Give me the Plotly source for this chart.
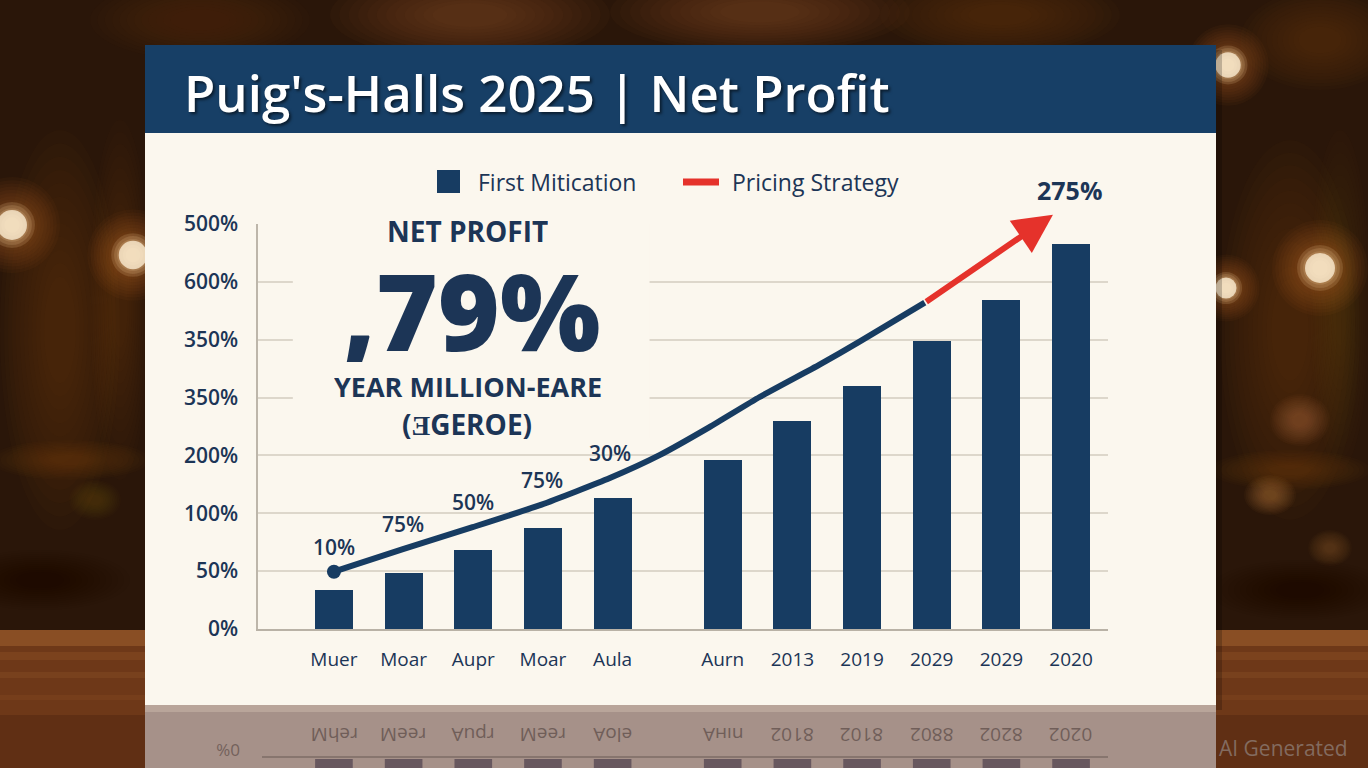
import plotly.graph_objects as go

# ---- data ----
categories = ['Muer', 'Moar', 'Aupr', 'Moar', 'Aula', 'Aurn', '2013', '2019', '2029', '2029', '2020']
x_pos = [0, 1, 2, 3, 4, 5.58, 6.58, 7.58, 8.58, 9.58, 10.58]
bar_values = [0.67, 0.97, 1.37, 1.75, 2.27, 2.92, 3.60, 4.20, 4.97, 5.68, 6.65]

y_tickvals = [0, 1, 2, 3, 4, 5, 6, 7]
y_ticktext = ['0%', '50%', '100%', '200%', '350%', '350%', '600%', '500%']

line_x = [0, 0.99, 1.99, 2.98, 3.96, 4.68, 5.39, 6.11, 6.97, 7.55, 8.48]
line_y = [0.99, 1.38, 1.76, 2.15, 2.61, 3.01, 3.49, 4.01, 4.57, 4.97, 5.64]
line_labels = ['10%', '75%', '50%', '75%', '30%']

arrow_x = [8.48, 10.32]
arrow_y = [5.64, 7.16]
arrow_label = '275%'

reflect_labels = ['Mher', 'Meer', 'Aupr', 'Meer', 'Aole', 'Aнın', '2018', '2018', '2088', '2028', '2020']

NAVY = '#173c62'
TEXT = '#1c3556'
CARD = '#fbf7ee'
RED = '#e5322b'

W, H = 1368, 768
ML, MR, MT, MB = 258, 260, 224, 139
PW, PH = W - ML - MR, H - MT - MB


def px(x):
    return (x - ML) / PW


def py(y):
    return (H - MB - y) / PH


def rect(x0, y0, x1, y1, color, opacity=1.0, layer='below'):
    return dict(type='rect', xref='paper', yref='paper', x0=px(x0), x1=px(x1), y0=py(y1), y1=py(y0),
                fillcolor=color, opacity=opacity, line=dict(width=0), layer=layer)


def blob(cx, cy, rx, ry, color, opacity):
    return dict(type='circle', xref='paper', yref='paper', x0=px(cx - rx), x1=px(cx + rx),
                y0=py(cy + ry), y1=py(cy - ry), fillcolor=color, opacity=opacity,
                line=dict(width=0), layer='below')


def soft(cx, cy, rx, ry, color, peak, steps=12):
    # stacked faint ellipses to fake a blurred patch of light
    return [blob(cx, cy, rx * (1 - i / steps * 0.8), ry * (1 - i / steps * 0.8), color, peak / steps)
            for i in range(steps)]


def light(cx, cy, r):
    out = soft(cx, cy, r * 2.4, r * 2.4, '#e08a3a', 0.45)
    out += soft(cx, cy, r * 1.15, r * 1.15, '#ffdca8', 0.9, steps=6)
    out.append(blob(cx, cy, r * 0.75, r * 0.75, '#fff1d8', 0.75))
    return out


fig = go.Figure()

fig.add_trace(go.Bar(x=x_pos, y=bar_values, width=0.545, marker=dict(color=NAVY, line=dict(width=0)),
                     showlegend=False, hoverinfo='skip'))
fig.add_trace(go.Scatter(x=line_x, y=line_y, mode='lines', line=dict(color=NAVY, width=6, shape='spline', smoothing=0.5),
                         showlegend=False, hoverinfo='skip'))
fig.add_trace(go.Scatter(x=line_x[:1], y=line_y[:1], mode='markers', marker=dict(color=NAVY, size=14),
                         showlegend=False, hoverinfo='skip'))

shapes = []
# background: dim bar room
shapes.append(rect(0, 0, W, 630, '#2a1609'))
for cx, cy, rx, ry, c, p in [(60, 330, 60, 200, '#7a4520', 0.45), (120, 300, 30, 180, '#8a5026', 0.35),
                             (1290, 330, 70, 190, '#7a4520', 0.45), (1340, 300, 30, 170, '#8a5026', 0.3),
                             (470, 15, 140, 45, '#9a5a28', 0.5), (760, 12, 150, 40, '#a86630', 0.5),
                             (1000, 15, 120, 40, '#8a4e22', 0.45), (200, 20, 110, 40, '#7a4420', 0.4),
                             (1320, 40, 80, 50, '#7a4420', 0.45), (70, 460, 80, 20, '#8a5428', 0.4),
                             (1290, 470, 80, 20, '#8a5428', 0.4), (1300, 420, 30, 26, '#c08040', 0.45),
                             (1270, 495, 26, 20, '#c88a48', 0.5), (1330, 548, 22, 18, '#b07038', 0.4),
                             (95, 500, 26, 20, '#a0602e', 0.35), (40, 580, 90, 30, '#120803', 0.5),
                             (1300, 590, 90, 30, '#120803', 0.5)]:
    shapes.extend(soft(cx, cy, rx, ry, c, p))
for cx, cy, r in [(12, 225, 20), (133, 255, 19), (1228, 65, 17), (1320, 268, 20), (1226, 288, 14)]:
    shapes.extend(light(cx, cy, r))
# wooden table
shapes.append(rect(0, 630, W, H, '#6e3818'))
shapes.append(rect(0, 630, W, 646, '#a4632f', 0.5))
shapes.append(rect(0, 652, W, 660, '#9a5a2c', 0.3))
shapes.append(rect(0, 672, W, 678, '#93552a', 0.3))
shapes.append(rect(0, 695, W, 700, '#8a4c24', 0.3))
shapes.append(rect(0, 715, W, H, '#4a2410', 0.4))

# card
shapes.append(rect(149, 50, 1222, 710, '#000000', 0.2))
shapes.append(rect(145, 45, 1216, 705, CARD))
shapes.append(rect(145, 45, 1216, 133, '#173f66'))
# reflection
shapes.append(rect(145, 705, 1216, H, '#a69189'))
shapes.append(rect(145, 705, 1216, 712, '#bba79c', 0.9))
shapes.append(dict(type='line', xref='paper', yref='paper', x0=px(262), x1=px(1108), y0=py(757), y1=py(757),
                   line=dict(color='#7d6c66', width=1.5), layer='below'))
for xv in x_pos:
    shapes.append(dict(type='rect', xref='x', yref='paper', x0=xv - 0.27, x1=xv + 0.27, y0=py(H + 2), y1=py(759),
                       fillcolor='#5d4d58', opacity=0.85, line=dict(width=0), layer='below'))

# cover behind the big text block
shapes.append(dict(type='rect', xref='x', yref='y', x0=-0.59, x1=4.53, y0=3.3, y1=7.05,
                   fillcolor=CARD, line=dict(width=0), layer='between'))

# legend
shapes.append(rect(437, 170, 460, 193, NAVY, layer='above'))
shapes.append(dict(type='line', xref='paper', yref='paper', x0=px(683), x1=px(719), y0=py(182), y1=py(182),
                   line=dict(color=RED, width=7), layer='above'))

annotations = []


def text(x, y, s, size, color=TEXT, weight=700, family='Open Sans', xanchor='center', **kw):
    annotations.append(dict(xref='paper', yref='paper', x=px(x), y=py(y), text=s, showarrow=False,
                            xanchor=xanchor, yanchor='middle',
                            font=dict(size=size, color=color, family=family, weight=weight), **kw))


text(182, 92, "Puig's-Halls 2025 | Net Profit", 51, color='white', weight=600, xanchor='left')
annotations[-1]['font']['shadow'] = '2px 2px 3px rgba(0,0,0,0.55)'
text(476, 182, 'First Mitication', 23, weight=500, xanchor='left')
text(730, 182, 'Pricing Strategy', 23, weight=500, xanchor='left')

text(467, 231, 'NET PROFIT', 28, height=30)
text(472, 310, ',79%', 106, weight=800, height=104)
text(468, 386, 'YEAR MILLION-EARE', 27, height=30)
text(467, 424, '(ƎGEROE)', 28)

for i, lab in enumerate(line_labels):
    annotations.append(dict(xref='x', yref='y', x=line_x[i], y=line_y[i], text=lab, showarrow=False,
                            yshift=25, font=dict(size=21, color=TEXT, family='Open Sans', weight=600)))

annotations.append(dict(xref='x', yref='y', x=arrow_x[1], y=arrow_y[1], ax=arrow_x[0], ay=arrow_y[0],
                        axref='x', ayref='y', text='', showarrow=True, arrowhead=2, arrowsize=1.3,
                        arrowwidth=6, arrowcolor=RED, standoff=0))
annotations.append(dict(xref='x', yref='paper', x=arrow_x[1] + 0.24, y=py(190), text=arrow_label,
                        showarrow=False, yanchor='middle',
                        font=dict(size=25, color=TEXT, family='Open Sans', weight=700)))

# reflection texts
for xv, lab in zip(x_pos, reflect_labels):
    annotations.append(dict(xref='x', yref='paper', x=xv, y=py(735), text=lab[::-1], textangle=180,
                            showarrow=False, yanchor='middle',
                            font=dict(size=19, color='#5e4e4a', family='Open Sans', weight=500), opacity=0.75))
text(228, 751, '0%', 17, color='#5e4e4a', weight=500, opacity=0.7, textangle=180)
text(1283, 748, 'AI Generated', 21, color='#8c7a72', weight=400, opacity=0.8)

fig.update_layout(
    width=W, height=H,
    margin=dict(l=ML, r=MR, t=MT, b=MB, pad=0),
    paper_bgcolor='#2a1609',
    plot_bgcolor='rgba(0,0,0,0)',
    shapes=shapes,
    annotations=annotations,
    showlegend=False,
    bargap=0,
    xaxis=dict(range=[-1.09, 11.11], tickvals=x_pos, ticktext=categories, showgrid=False, zeroline=False,
               showline=True, linecolor='#b9b2a6', linewidth=1.5, ticks='', ticklabelstandoff=12,
               tickfont=dict(size=19, color=TEXT, family='Open Sans', weight=500), fixedrange=True),
    yaxis=dict(range=[0, 7], tickvals=y_tickvals, ticktext=y_ticktext, showgrid=True, gridcolor='#ddd7cb',
               gridwidth=1.5, zeroline=False, showline=True, linecolor='#bdb6aa', linewidth=1.5, ticks='',
               ticklabelstandoff=14,
               tickfont=dict(size=21, color=TEXT, family='Open Sans', weight=600), fixedrange=True),
)

fig.write_html('out.html', config={'displayModeBar': False},
               post_script="document.body.style.margin='0';document.body.style.overflow='hidden';")
